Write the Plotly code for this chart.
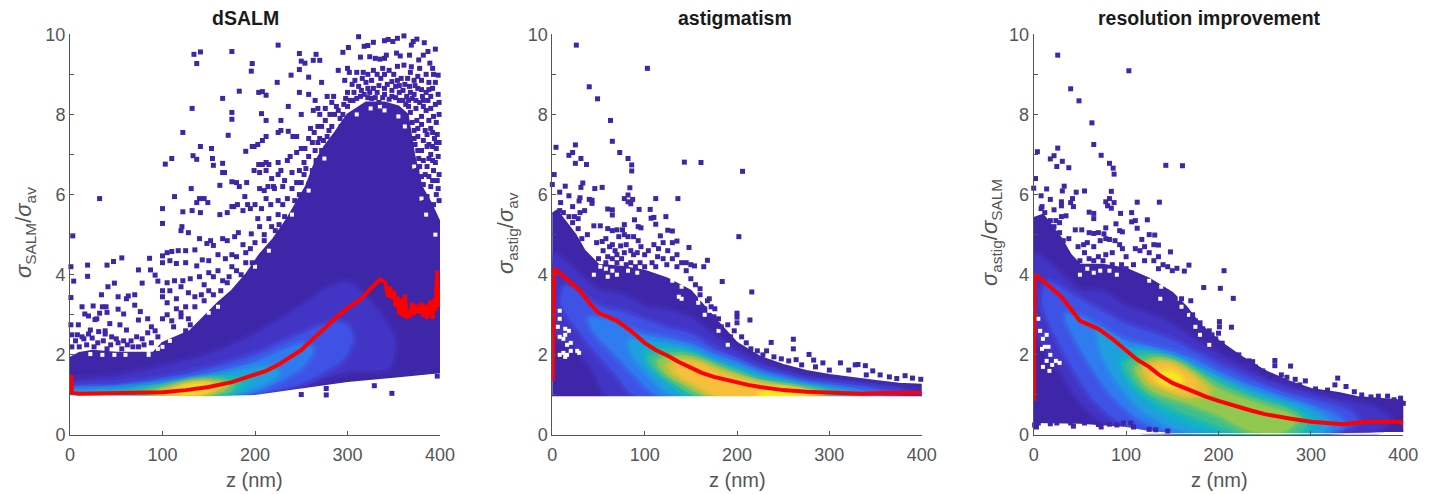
import plotly.graph_objects as go

TICK_X = [0, 100, 200, 300, 400]
TICK_Y = [0, 2, 4, 6, 8, 10]
MINOR_Y = [1, 3, 5, 7, 9]
TITLES = ["dSALM", "astigmatism", "resolution improvement"]
XLABEL = "z (nm)"
YLABELS = ["<i>σ</i><sub>SALM</sub>/<i>σ</i><sub>av</sub>",
           "<i>σ</i><sub>astig</sub>/<i>σ</i><sub>av</sub>",
           "<i>σ</i><sub>astig</sub>/<i>σ</i><sub>SALM</sub>"]
LEVEL_RGB = [(62,38,168), (66,52,196), (63,82,230), (47,124,240), (31,158,224), (16,180,196),
             (60,192,144), (144,200,80), (216,192,56), (248,192,58), (249,232,32)]
DOT = "#3e26a8"
RED = "#ff0000"

# density outlines: (z, ratio), densest last
p1_levels = [
 [(-2,1.0),(-2,1.9),(10,2.05),(25,2.1),(50,2.05),(75,2.05),(90,2.05),(100,2.3),(115,2.45),(130,2.6),(145,2.95),(160,3.3),(175,3.6),(190,4.0),(205,4.5),(220,4.9),(235,5.4),(245,5.8),(255,6.2),(265,6.8),(275,7.2),(285,7.5),(300,8.0),(320,8.3),(340,8.3),(355,8.2),(365,8.0),(372,7.0),(380,6.2),(390,5.8),(402,5.2),(402,1.55),(385,1.52),(350,1.43),(300,1.32),(250,1.15),(225,1.08),(200,1.0),(150,0.97),(100,0.98)],
 [(0,1.3),(50,1.45),(100,1.7),(150,2.0),(200,2.5),(250,3.2),(275,3.6),(300,3.8),(325,3.3),(350,2.4),(345,1.7),(300,1.6),(250,1.25),(200,1.03),(100,1.0),(0,1.0)],
 [(0,1.15),(50,1.25),(100,1.4),(150,1.65),(200,2.0),(225,2.25),(250,2.5),(285,2.8),(300,2.7),(305,2.4),(295,1.9),(275,1.6),(250,1.3),(225,1.15),(200,1.03),(150,1.0),(0,1.0)],
 [(0,1.1),(50,1.15),(100,1.3),(150,1.5),(200,1.8),(225,2.05),(250,2.25),(262,2.15),(250,1.7),(225,1.35),(200,1.1),(175,1.0),(0,1.0)],
 [(0,1.06),(50,1.12),(100,1.25),(150,1.42),(185,1.6),(215,1.7),(225,1.55),(205,1.25),(175,1.03),(150,1.0),(0,1.0)],
 [(30,1.05),(60,1.12),(100,1.22),(140,1.38),(170,1.45),(195,1.42),(190,1.2),(165,1.02),(40,1.0)],
 [(70,1.07),(100,1.17),(130,1.32),(160,1.38),(180,1.3),(175,1.1),(155,1.0),(80,1.0)],
 [(85,1.05),(110,1.2),(135,1.32),(160,1.33),(172,1.22),(150,1.02),(95,1.0)],
 [(95,1.05),(120,1.22),(145,1.3),(165,1.22),(145,1.03),(105,1.0)],
 [(105,1.05),(125,1.22),(150,1.26),(155,1.17),(140,1.03),(110,1.01)],
 [(115,1.08),(135,1.22),(150,1.2),(130,1.07)],
]
p2_levels = [
 [(-2,0.97),(-2,5.5),(5,5.6),(15,5.3),(25,5.0),(35,4.6),(50,4.25),(75,4.2),(100,4.1),(125,3.9),(150,3.6),(165,3.2),(180,2.8),(200,2.3),(225,1.95),(250,1.75),(275,1.6),(300,1.5),(325,1.42),(350,1.35),(375,1.28),(402,1.25),(402,0.97)],
 [(3,2.5),(3,4.5),(20,4.2),(50,3.6),(75,3.5),(100,3.2),(125,3.1),(150,2.9),(175,2.45),(200,2.1),(225,1.8),(250,1.6),(275,1.45),(300,1.38),(350,1.25),(385,1.15),(398,1.05),(385,1.0),(60,1.0),(45,1.6),(25,2.2)],
 [(10,3.3),(15,3.7),(50,3.2),(75,3.05),(100,2.85),(125,2.65),(150,2.5),(175,2.15),(200,1.9),(225,1.65),(250,1.5),(275,1.35),(300,1.28),(350,1.15),(375,1.05),(365,1.0),(90,1.0),(70,1.5),(40,2.3)],
 [(40,2.9),(60,2.85),(85,2.6),(100,2.5),(125,2.4),(150,2.25),(175,2.0),(200,1.8),(225,1.55),(250,1.4),(275,1.28),(300,1.2),(340,1.08),(355,1.0),(115,1.0),(90,1.5),(65,2.1),(45,2.6)],
 [(85,2.35),(100,2.35),(125,2.25),(150,2.15),(175,1.9),(200,1.7),(225,1.5),(250,1.35),(275,1.22),(300,1.15),(330,1.03),(335,1.0),(130,1.0),(105,1.5),(85,2.1)],
 [(100,2.1),(115,2.2),(135,2.15),(150,2.05),(175,1.8),(200,1.62),(225,1.42),(250,1.3),(275,1.18),(300,1.1),(320,1.0),(145,1.0),(120,1.4),(102,1.85)],
 [(105,1.95),(125,2.05),(140,2.05),(165,1.85),(190,1.62),(225,1.35),(250,1.25),(285,1.12),(305,1.0),(155,1.0),(130,1.35),(110,1.7)],
 [(115,1.85),(130,1.95),(150,1.93),(175,1.72),(200,1.5),(225,1.3),(250,1.2),(290,1.05),(295,1.0),(165,1.0),(140,1.3),(120,1.6)],
 [(125,1.75),(140,1.87),(160,1.8),(185,1.55),(225,1.26),(260,1.15),(285,1.0),(175,1.0),(150,1.3),(130,1.55)],
 [(135,1.65),(150,1.77),(175,1.55),(200,1.38),(240,1.18),(275,1.02),(180,1.0),(160,1.25),(140,1.5)],
 [(225,1.0),(235,1.12),(265,1.08),(275,1.0)],
]
p3_levels = [
 [(-2,0.4),(-2,5.4),(10,5.5),(20,5.2),(30,4.9),(40,4.5),(50,4.25),(75,4.25),(100,4.15),(125,3.9),(150,3.55),(165,3.2),(180,2.75),(200,2.35),(225,1.95),(250,1.6),(275,1.35),(300,1.15),(330,1.05),(350,0.95),(375,0.9),(402,0.85),(402,0.1),(375,0.1),(300,0.05),(200,0.03),(150,0.05),(125,0.1),(100,0.2),(50,0.28),(0,0.3)],
 [(3,2.5),(3,4.5),(20,4.2),(50,3.6),(75,3.55),(100,3.2),(125,3.0),(150,2.75),(175,2.35),(200,2.0),(225,1.7),(250,1.42),(275,1.22),(300,1.05),(335,0.85),(365,0.7),(385,0.4),(375,0.15),(320,0.08),(150,0.08),(75,0.35),(45,1.0),(25,1.8)],
 [(10,3.3),(15,3.8),(40,3.5),(75,3.05),(100,2.75),(125,2.55),(150,2.35),(175,2.05),(200,1.75),(225,1.5),(250,1.25),(275,1.05),(300,0.9),(340,0.6),(350,0.35),(330,0.1),(150,0.05),(100,0.25),(65,0.9),(35,2.0)],
 [(35,3.0),(60,2.85),(85,2.5),(100,2.35),(125,2.2),(150,2.05),(175,1.85),(200,1.55),(225,1.3),(250,1.1),(275,0.9),(300,0.72),(325,0.5),(335,0.3),(320,0.05),(155,0.05),(115,0.4),(85,1.0),(55,2.0)],
 [(70,2.6),(85,2.4),(100,2.2),(125,2.1),(150,1.95),(175,1.7),(200,1.45),(225,1.2),(250,1.0),(275,0.8),(300,0.62),(320,0.3),(310,0.05),(170,0.05),(125,0.5),(95,1.2),(75,2.0)],
 [(95,1.9),(110,2.1),(135,2.0),(160,1.8),(185,1.5),(215,1.2),(250,0.9),(285,0.65),(305,0.3),(295,0.05),(200,0.05),(150,0.45),(115,1.0),(98,1.5)],
 [(100,1.75),(120,2.0),(145,1.9),(175,1.6),(200,1.3),(240,0.9),(275,0.65),(295,0.3),(285,0.05),(225,0.05),(175,0.45),(140,0.8),(110,1.3)],
 [(110,1.65),(130,1.9),(155,1.8),(180,1.45),(200,1.15),(240,0.8),(285,0.4),(270,0.08),(235,0.1),(200,0.5),(165,0.8),(125,1.15)],
 [(118,1.65),(135,1.82),(155,1.72),(180,1.35),(190,1.1),(170,0.95),(140,1.15),(122,1.4)],
 [(125,1.6),(140,1.75),(155,1.65),(175,1.3),(170,1.05),(145,1.2),(128,1.4)],
 [(135,1.5),(150,1.55),(160,1.35),(150,1.25),(138,1.35)],
]

# blank area below the cloud
p1_blank = [(-4,0.99),(100,0.98),(150,0.97),(200,1.0),(225,1.08),(250,1.15),(300,1.32),(350,1.43),(385,1.52),(404,1.55),(404,0.03),(-4,0.03)]
p2_blank = [(-4,0.97),(404,0.97),(404,0.03),(-4,0.03)]
p3_blank = [(-4,0.3),(50,0.28),(100,0.2),(125,0.1),(150,0.05),(404,0.05),(404,0.03),(-4,0.03)]

# white gaps inside the dense cloud
p1_gaps = [(100,2.2),(108,2.35),(95,2.15),(85,2.1),(150,3.05),(160,3.2),(150,3.3),(275,6.9),(340,8.1),(335,8.2),(380,5.9),(372,6.7),(362,7.7),(385,5.5),(355,7.95),(85,2.0),(60,2.0),(48,2.0),(22,2.02),(35,2.0),(200,4.2),(215,4.6),(240,5.5),(258,6.1),(325,8.15),(310,8.0),(395,5.0)]
p2_gaps = [(8,3.1),(8,2.9),(6,2.7),(14,2.65),(18,2.6),(12,2.4),(8,2.45),(14,2.5),(16,2.25),(20,2.3),(12,2.05),(8,2.0),(16,2.0),(20,2.1),(27,2.1),(29,2.05),(14,1.95),(52,4.2),(58,4.15),(65,4.1),(70,4.0),(82,4.1),(92,4.05),(45,4.0),(60,3.95),(130,3.85),(140,3.7),(137,3.45),(140,3.4),(160,3.4),(158,3.3),(165,3.0),(170,3.1),(180,2.6),(190,2.25)]
p3_gaps = [(5,2.9),(7,2.6),(10,2.4),(14,2.5),(12,2.2),(9,2.15),(16,2.2),(18,2.0),(14,1.85),(20,1.75),(24,1.85),(28,1.8),(10,1.7),(17,1.6),(50,4.0),(58,4.15),(65,4.05),(72,4.1),(82,4.1),(90,4.0),(125,3.85),(138,3.7),(137,3.4),(158,3.4),(160,3.2),(168,3.0),(175,2.7),(180,2.5),(190,2.25)]

# individually readable dots
p1_dots = [(250,1.01),(277,1.16),(277,1.0),(348,1.04),(329,1.23),(397,1.47),(3,4.97),(1,4.2),(4,3.84),(1,3.43),(1,2.75),(9,2.75),(32,5.9),(19,4.24),(19,3.96),(40,4.24),(47,4.33),(56,4.42),(48,3.79),(41,3.7),(34,3.5),(13,3.2),(25,3.22),(35,3.2),(39,3.2),(52,3.45),(63,3.47),(61,3.4),(70,3.5),(74,4.12),(86,4.41),(87,4.12),(92,3.99),(78,3.79),(95,3.84),(70,3.24),(76,3.08),(52,3.14),(58,3.02),(40,3.06),(32,3.04),(20,2.97),(16,3.02),(74,2.87),(84,2.9),(54,2.75),(61,2.62),
(27,2.88),(29,2.9),(43,2.78),(38,2.6),(38,2.52),(31,2.58),(22,2.62),(20,2.52),(13,2.45),(8,2.5),(2,2.5),(6,2.35),(15,2.4),(24,2.42),(30,2.3),(36,2.35),(45,2.45),(50,2.4),(58,2.35),(66,2.35),(72,2.45),(78,2.4),(84,2.55),(88,2.7),(92,2.6),(95,2.45),(80,2.25),(68,2.2),(52,2.3),(44,2.25),(2,2.2),(10,2.2),(18,2.25),(26,2.2),(40,2.15),(56,2.15),(62,2.25),(74,2.2),(88,2.3),
(100,5.65),(100,5.28),(103,6.76),(110,6.9),(113,5.95),(122,7.55),(121,5.2),(122,5.57),(120,5.1),(128,5.05),(131,6.15),(132,5.6),(132,8.15),(134,9.5),(137,9.27),(141,9.56),(133,6.97),(137,6.88),(141,7.2),(153,7.15),(154,6.9),(155,6.73),(165,6.78),(165,6.55),(167,6.55),(162,6.23),(171,7.48),(175,9.57),(175,8.05),(175,7.88),(165,8.4),(183,8.58),(196,9.08),(197,9.27),(225,9.73),(224,8.8),(239,8.98),(248,9.52),(250,9.33),(248,9.12),(254,9.28),(258,8.93),(263,9.35),(266,9.5),(270,9.35),(197,7.2),(204,6.75),(199,7.2),(203,7.25),(208,7.35),(190,7.08),(212,7.45),(204,8.55),(208,8.57),(212,8.48),(207,8.02),(212,7.85),(225,7.55),(228,7.6),(228,7.85),(236,7.58),(236,8.2),(241,7.45),(245,7.45),(248,8.55),(250,8.0),(254,7.15),(258,8.5),(263,8.1),(265,8.35),(268,8.15),(272,8.8),(270,8.0),(260,7.65),(180,6.3),(175,6.32),(183,6.2),(191,6.3),(140,5.9),(137,5.8),(145,5.9),(149,5.8),(141,5.55),(162,5.5),(170,5.55),(175,5.7),(177,5.7),(181,5.75),(187,5.6),(189,5.95),(195,5.65),(192,5.75),(200,5.75),(203,5.4),(207,5.65),(199,6.6),(205,6.55),(212,6.6),(208,6.75),(212,6.8),(215,6.75),(214,6.2),(205,6.15),(210,6.1),(220,6.2),(221,6.15),(228,6.6),(225,6.8),(235,6.85),(238,6.95),(245,7.05),(250,7.15),(253,6.8),
(100,4.3),(100,4.47),(105,4.55),(110,4.58),(117,4.6),(125,4.6),(135,4.62),(108,4.35),(115,4.28),(125,4.3),(137,4.22),(143,4.37),(150,4.35),(148,4.78),(155,4.73),(152,4.85),(140,4.9),(165,4.9),(170,4.85),(178,4.95),(182,5.05),(187,4.75),(195,4.65),(196,5.02),(205,5.2),(215,5.4),(222,5.1),(210,4.85),(225,5.5),(230,5.75),(217,5.75),(160,4.5),(168,4.4),(175,4.5),(180,4.45),(190,4.3),(180,4.1),(160,4.1),(150,4.05),(140,3.95),(130,3.9),(122,3.85),(113,3.85),(105,3.8),(100,3.6),(108,3.6),(120,3.7),(128,3.55),(145,3.75),(155,3.95),(170,3.8),(100,3.45),(105,3.3),(115,3.4),(125,3.2),(135,3.2),(145,3.35),(155,3.5),(105,3.0),(100,2.9),(110,2.85),(120,2.95),(130,2.75),(112,2.7),(125,2.6),
(163,3.6),(172,3.95),(185,4.0),(197,4.3),(200,4.8),(190,4.55),(175,4.2),(165,3.85),(142,3.5),(135,3.45),(150,3.6),(120,3.05),(128,2.9),(115,3.15),(210,5.0),(218,5.2),(226,5.25),(232,5.45),(225,5.85),(235,5.9),(243,5.85),(248,6.0),(240,6.15),(232,6.35),(218,6.4),(212,5.9),(250,6.3),(258,6.25),(262,6.6),(255,6.65),(248,6.6),(266,6.85),(272,7.1),(268,7.3),(258,7.4),(264,7.55),(274,7.35),(280,7.6),(276,7.85),(268,7.7),(276,8.15),(281,8.0),(293,7.7),(288,8.2),(295,8.0),
(230,6.2),(240,6.55),(225,6.5),(245,6.3),(253,6.5),(258,6.95),(262,7.3),(265,7.1),(270,7.4),(272,7.7),(278,7.45),(283,7.7),(286,8.0),(283,8.3),(278,8.45),(285,8.45),(290,8.1),(292,7.9),(296,8.25),(298,8.4),(290,9.1),(297,8.85),(300,8.55),
(312,9.94),(318,9.7),(322,9.72),(328,9.8),(340,9.84),(344,9.87),(349,9.82),(354,9.9),(361,9.96),(371,9.82),(369,9.73),(383,9.79),(375,9.88),(395,9.63),(295,9.55),(301,9.67),(314,9.43),(324,9.44),(330,9.4),(335,9.38),(342,9.48),(340,9.4),(353,9.53),(357,9.46),(367,9.48),(382,9.48),(387,9.57),(377,9.36),(389,9.28),(361,9.23),(369,9.19),(300,9.15),(302,9.05),(310,9.05),(317,9.05),(322,9.0),(332,9.0),(345,9.1),(350,9.0),(358,8.9),(365,8.9),(372,8.85),(380,8.85),(385,9.0),(393,9.0),(398,8.98),(305,8.75),(312,8.7),(320,8.8),(328,8.65),(336,8.9),(343,8.75),(352,8.7),(360,8.6),(368,8.55),(376,8.65),(385,8.55),(392,8.65),(398,8.5),(303,8.35),(310,8.4),(318,8.5),(326,8.4),(334,8.3),(340,8.5),(348,8.45),(356,8.35),(363,8.25),(370,8.4),(378,8.3),(387,8.35),(395,8.25),(399,8.3),(368,8.05),(375,7.85),(385,8.1),(393,7.95),(399,8.0),(372,7.6),(380,7.75),(390,7.65),(397,7.5),(373,7.25),(382,7.35),(392,7.2),(399,7.3),(377,6.9),(388,6.9),(398,6.95),(375,6.6),(384,6.5),(393,6.6),(399,6.5),(380,6.1),(390,6.2),(398,6.15),(383,5.8),(393,5.75),(399,5.85),
(366,8.2),(374,8.15),(382,8.2),(390,8.15),(380,7.95),(388,7.85),(396,7.8),(376,7.45),(386,7.5),(394,7.4),(380,7.1),(390,7.0),(396,7.15),(378,6.7),(386,6.7),(395,6.8),(382,6.25),(392,6.35),(386,5.95),(396,6.0),(307,8.55),(315,8.6),(324,8.55),(332,8.55),(340,8.65),(348,8.6),(356,8.55),(364,8.45),(372,8.5),(381,8.45),(390,8.45),(316,8.9),(326,8.85),(340,9.0),(354,8.85),(362,8.75),(376,8.95),(388,8.8),(395,8.8),(328,9.1),(338,9.15),(354,9.2),(368,9.05),(378,9.15),(392,9.15),
(300,8.2),(306,8.35),(314,8.45),(322,8.42),(330,8.42),(338,8.42),(345,8.38),(352,8.42),(360,8.35),(366,8.35),(374,8.35),(382,8.35),(367,8.7),(373,8.72),(380,8.62),(388,8.62),(308,8.85),(322,8.65),(334,8.72),(348,8.82),(356,8.72),(370,7.8),(376,7.65),(384,7.6),(392,7.55),(372,7.4),(388,7.25),(396,7.3),(376,7.1),(386,7.2),(382,6.85),(392,6.85),(380,6.45),(388,6.45),(397,6.35)]
p2_dots = [(26,9.73),(103,9.15),(40,8.69),(49,8.39),(63,7.85),(65,7.33),(73,7.05),(82,6.9),(86,6.74),(86,6.59),(4,7.18),(25,7.24),(22,7.05),(18,6.98),(31,6.9),(25,6.78),(37,6.75),(2,6.5),(0,6.25),(33,6.29),(31,6.18),(14,6.21),(46,6.15),(54,6.18),(8,6.06),(18,5.97),(30,5.92),(29,5.84),(9,5.8),(43,5.86),(40,5.88),(43,5.78),(22,5.7),(60,5.64),(65,5.62),(65,5.49),(84,6.17),(82,5.99),(87,5.88),(78,5.9),(82,5.82),(85,5.77),(94,5.63),(106,5.63),(112,5.9),(136,5.9),(143,6.81),(161,6.8),(206,6.58),(202,4.95),(184,3.83),(216,3.57),(214,2.87),(200,3.04),(200,2.94),(200,2.8),(261,2.39),(237,2.31),(261,2.15),(278,2.01),(283,1.87),(293,1.8),(312,1.8),(328,1.75),(331,1.76),(339,1.73),(321,1.62),(347,1.6),(382,1.48),(373,1.41),(399,1.39),
(148,4.68),(168,4.36),(164,4.2),(154,4.22),(145,4.1),(135,4.84),(130,5.09),(125,5.11),(123,5.45),(110,5.43),(107,5.41),(112,5.26),(117,4.97),(89,5.37),(93,5.2),(96,5.17),(45,5.22),(52,5.22),
(54,4.83),(58,4.9),(65,4.75),(72,4.95),(78,5.0),(82,4.95),(88,4.95),(93,4.85),(96,4.7),(85,4.6),(78,4.55),(70,4.5),(60,4.45),(50,4.4),(48,4.8),(55,4.6),(65,4.4),(75,4.4),(85,4.3),(95,4.3),(100,4.5),(110,4.75),(115,4.65),(120,4.8),(125,4.6),(130,4.8),(135,4.5),(130,4.4),(120,4.4),(108,4.3),(100,4.2),(140,4.3),(145,4.3),(150,4.25),(135,4.2),
(60,5.15),(65,5.1),(70,5.12),(78,5.25),(76,5.12),(38,5.0),(32,4.9),(28,5.15),(22,5.3),(24,5.45),(30,5.55),(35,5.6),(28,5.4),(18,5.45),(12,5.55),(8,5.6),(170,3.4),(160,3.5),(165,3.15),(172,3.2),(175,2.95),(180,2.9),(183,2.7),(190,2.75),(193,2.45),(197,2.6),(186,2.55),(205,2.45),(210,2.3),(215,2.15),(222,2.1),(232,2.1),(228,2.0),(240,1.95),(248,1.9),(256,1.85),(264,1.88),(270,1.75),(285,1.7),(300,1.62),(340,1.5),(355,1.5),(365,1.45),(390,1.42),
(62,4.7),(68,4.6),(74,4.72),(80,4.75),(88,4.5),(92,4.55),(104,4.6),(114,4.45),(124,4.25),(58,4.3),(70,4.3),(80,4.25),(90,4.2),(112,4.2),(150,3.9),(155,3.75),(160,3.65),(168,3.35),(176,3.15)]
p3_dots = [(26,9.48),(103,9.09),(40,8.64),(49,8.34),(63,7.79),(65,7.25),(73,6.98),(82,6.78),(86,6.66),(87,6.51),(4,7.07),(26,7.16),(22,6.97),(18,6.89),(31,6.83),(25,6.7),(38,6.67),(2,6.4),(0,6.16),(33,6.21),(31,6.09),(14,6.14),(46,6.06),(55,6.09),(8,5.97),(18,5.88),(30,5.82),(30,5.72),(9,5.7),(42,5.9),(40,5.8),(43,5.7),(22,5.62),(60,5.56),(65,5.53),(65,5.4),(84,6.08),(82,5.9),(87,5.8),(78,5.82),(80,5.72),(84,5.66),(94,5.53),(106,5.55),(112,5.81),(136,5.81),(143,6.73),(161,6.72),(206,4.1),(184,3.68),(202,3.66),(216,3.41),(214,2.69),(201,2.83),(201,2.7),(200,2.54),(204,2.29),(261,1.86),(261,1.73),(278,1.72),(274,1.44),(283,1.39),(294,1.35),(329,1.42),(326,1.25),(338,1.21),(347,1.08),(373,0.97),(383,0.97),(397,0.92),(400,0.79),(222,2.0),(223,1.91),(233,1.85),(237,1.83),(249,1.56),(256,1.46),
(168,4.24),(163,4.09),(155,4.16),(148,4.57),(135,4.74),(131,4.99),(125,5.0),(123,5.37),(110,5.35),(106,5.32),(112,5.16),(117,4.88),(89,5.27),(93,5.1),(96,5.07),(45,5.12),(52,5.12),
(54,4.75),(58,4.8),(65,4.7),(72,4.85),(78,4.9),(82,4.88),(88,4.85),(93,4.75),(96,4.65),(85,4.55),(78,4.5),(70,4.45),(60,4.4),(50,4.35),(48,4.7),(55,4.55),(65,4.35),(75,4.35),(85,4.25),(95,4.25),(100,4.45),(110,4.65),(115,4.6),(120,4.7),(125,4.55),(130,4.75),(135,4.45),(130,4.35),(120,4.35),(108,4.25),(100,4.15),(140,4.25),(145,4.2),(150,4.1),(135,4.15),
(60,5.05),(65,5.03),(70,5.05),(78,5.17),(76,5.02),(38,4.9),(32,4.85),(28,5.05),(22,5.2),(24,5.35),(30,5.45),(35,5.47),(28,5.3),(18,5.35),(12,5.55),(8,5.65),(170,3.35),(160,3.4),(165,3.1),(172,3.0),(175,2.85),(180,2.8),(183,2.65),(190,2.6),(193,2.5),(197,2.4),(186,2.45),(205,2.1),(210,2.0),(225,1.85),(240,1.7),(248,1.6),(268,1.5),(288,1.25),(305,1.15),(318,1.12),(355,1.0),(365,0.95),(390,0.88),
(1,0.25),(3,0.2),(5,0.3),(18,0.28),(25,0.3),(40,0.3),(43,0.22),(55,0.3),(70,0.26),(73,0.2),(82,0.27),(90,0.25),(97,0.3),(105,0.3),(108,0.2),(125,0.14),(132,0.13),(145,0.1)]

# red running mean
p1_red_z = [1.5,2,10,50,75,100,125,150,175,200,212,225,237,250,262,275,290,300,315,325,332,335,338,341,344,346,348,350,352,354,356,358,360,362,364,366,368,370,372,374,376,378,380,382,384,386,388,390,392,394,395,396,397,398,399,400]
p1_red_y = [1.5,1.05,1.03,1.05,1.05,1.07,1.12,1.2,1.32,1.5,1.6,1.75,1.92,2.12,2.38,2.66,2.98,3.16,3.4,3.65,3.82,3.88,3.85,3.8,3.45,3.7,3.4,3.6,3.2,3.45,3.0,3.4,2.95,3.5,2.9,3.1,2.95,3.3,3.0,3.25,3.05,3.1,3.3,2.95,3.25,2.9,3.2,3.35,2.9,3.4,3.1,3.55,4.1,3.2,3.6,3.2]
p2_red_z = [0.5,1,2,10,20,30,40,50,55,70,85,100,112,125,137,150,162,175,187,200,212,225,237,250,275,300,335,360,400]
p2_red_y = [1.35,4.1,4.15,4.0,3.8,3.6,3.3,3.05,3.0,2.85,2.6,2.3,2.12,1.98,1.82,1.68,1.55,1.45,1.38,1.32,1.25,1.2,1.16,1.12,1.08,1.05,1.03,1.05,1.05]
p3_red_z = [0.5,1,10,20,30,40,50,57,70,85,100,112,125,137,150,162,175,187,200,212,225,237,250,275,300,335,345,360,375,395,400]
p3_red_y = [0.85,4.0,3.85,3.65,3.45,3.15,2.85,2.78,2.65,2.4,2.1,1.88,1.7,1.48,1.3,1.18,1.07,0.95,0.85,0.76,0.68,0.6,0.52,0.42,0.33,0.27,0.29,0.33,0.33,0.33,0.3]

panels = [
 dict(levels=p1_levels, blank=p1_blank, gaps=p1_gaps, dots=p1_dots, rz=p1_red_z, ry=p1_red_y),
 dict(levels=p2_levels, blank=p2_blank, gaps=p2_gaps, dots=p2_dots, rz=p2_red_z, ry=p2_red_y),
 dict(levels=p3_levels, blank=p3_blank, gaps=p3_gaps, dots=p3_dots, rz=p3_red_z, ry=p3_red_y),
]

W, H = 1436, 494
X_PX = [(70, 440), (552.3, 921.7), (1033.7, 1403.3)]
Y_PX = (34.3, 435)
TITLE_X = [245, 735, 1209]
XLAB_X = [254, 737, 1219]
YLAB_X = [25, 507, 991]
TICK = "#555555"


def closed(pts):
    return [q[0] for q in pts] + [pts[0][0]], [q[1] for q in pts] + [pts[0][1]]


def rgba(c, a):
    return "rgba(%d,%d,%d,%s)" % (c[0], c[1], c[2], a)


fig = go.Figure()
for i, p in enumerate(panels):
    ax = "" if i == 0 else str(i + 1)
    xa, ya = "x" + ax, "y" + ax
    quiet = dict(xaxis=xa, yaxis=ya, showlegend=False, hoverinfo="skip")
    for k, pts in enumerate(p["levels"]):
        c = LEVEL_RGB[k]
        xs, ys = closed(pts)
        if k == 0:
            fig.add_trace(go.Scatter(x=xs, y=ys, mode="lines", fill="toself", fillcolor=rgba(c, 1),
                                     line=dict(color=rgba(c, 1), width=2), cliponaxis=False, **quiet))
        else:
            # soft stroke so neighbouring density levels blend
            fig.add_trace(go.Scatter(x=xs, y=ys, mode="lines",
                                     line=dict(color=rgba(c, 0.3), width=10, shape="spline", smoothing=0.8),
                                     cliponaxis=True, **quiet))
            fig.add_trace(go.Scatter(x=xs, y=ys, mode="lines", fill="toself", fillcolor=rgba(c, 1),
                                     line=dict(color=rgba(c, 0.5), width=4, shape="spline", smoothing=0.8),
                                     cliponaxis=True, **quiet))
    if p["blank"]:
        xs, ys = closed(p["blank"])
        fig.add_trace(go.Scatter(x=xs, y=ys, mode="lines", fill="toself", fillcolor="white",
                                 line=dict(color="white", width=0), cliponaxis=False, **quiet))
    fig.add_trace(go.Scatter(x=[q[0] for q in p["gaps"]], y=[q[1] for q in p["gaps"]], mode="markers",
                             marker=dict(symbol="square", size=4, color="white"), cliponaxis=False, **quiet))
    fig.add_trace(go.Scatter(x=[q[0] for q in p["dots"]], y=[q[1] for q in p["dots"]], mode="markers",
                             marker=dict(symbol="square", size=5, color=DOT), cliponaxis=False, **quiet))
    fig.add_trace(go.Scatter(x=p["rz"], y=p["ry"], mode="lines", line=dict(color=RED, width=4),
                             cliponaxis=False, **quiet))
    axis_common = dict(showgrid=False, zeroline=False, showline=True, linecolor=TICK, linewidth=1,
                       ticks="inside", ticklen=4, tickcolor=TICK, tickwidth=1, automargin=False,
                       layer="above traces",
                       tickfont=dict(family="Liberation Sans", size=18, color=TICK))
    fig.update_layout({
        "xaxis" + ax: dict(domain=[X_PX[i][0] / W, X_PX[i][1] / W], range=[0, 400], tickvals=TICK_X,
                           anchor=ya, ticklabelstandoff=3, **axis_common),
        "yaxis" + ax: dict(domain=[1 - Y_PX[1] / H, 1 - Y_PX[0] / H], range=[0, 10], tickvals=TICK_Y,
                           minor=dict(tickvals=MINOR_Y, ticks="inside", ticklen=4, tickcolor=TICK, tickwidth=1),
                           anchor=xa, **axis_common),
    })
    fig.add_annotation(text="<b>" + TITLES[i] + "</b>", xref="paper", yref="paper", x=TITLE_X[i] / W,
                       y=1 - 18 / H, showarrow=False, xanchor="center", yanchor="middle",
                       font=dict(family="Liberation Sans", size=19.5, color="#1a1a1a"))
    fig.add_annotation(text=XLABEL, xref="paper", yref="paper", x=XLAB_X[i] / W, y=1 - 480 / H,
                       showarrow=False, xanchor="center", yanchor="middle",
                       font=dict(family="Liberation Sans", size=20, color=TICK))
    fig.add_annotation(text=YLABELS[i], xref="paper", yref="paper", x=YLAB_X[i] / W, y=1 - 233 / H,
                       showarrow=False, textangle=-90, xanchor="center", yanchor="middle",
                       font=dict(family="Liberation Sans", size=22, color=TICK))

fig.update_layout(width=W, height=H, margin=dict(l=0, r=0, t=0, b=0, autoexpand=False), autosize=False,
                  paper_bgcolor="white", plot_bgcolor="rgba(0,0,0,0)", showlegend=False)
fig.write_html("out.html", config=dict(displayModeBar=False),
               post_script="document.body.style.margin='0';document.documentElement.style.overflow='hidden';")
